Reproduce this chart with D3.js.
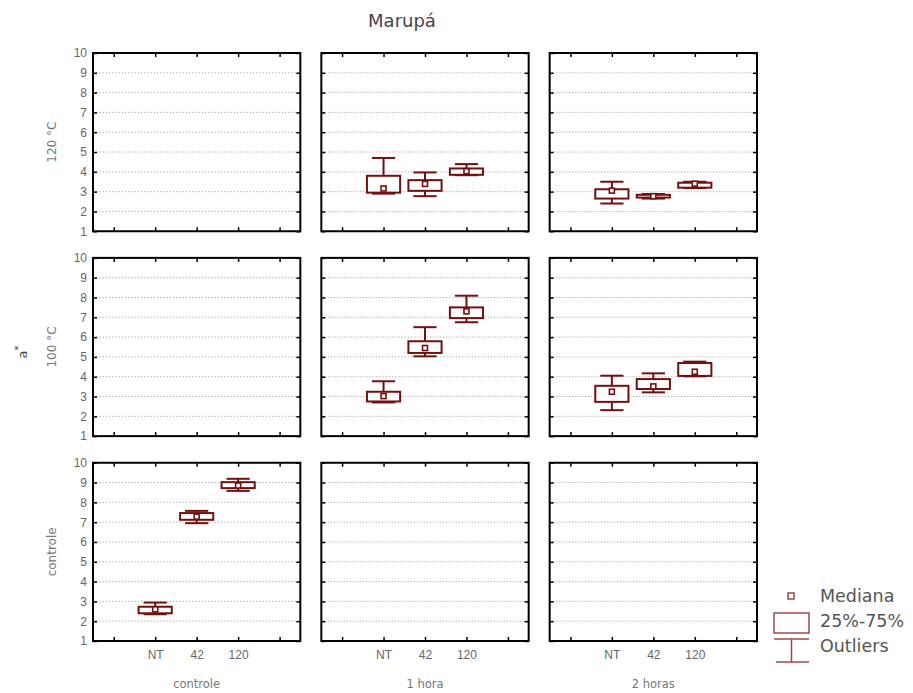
<!DOCTYPE html>
<html lang="pt">
<head>
<meta charset="UTF-8">
<title>Marupá</title>
<script src="https://d3js.org/d3.v7.min.js"></script>
<style>
  body { margin: 0; background: #fff; }
  svg { display: block; font-family: 'DejaVu Sans', sans-serif; }
  .axis path.domain { display: none; }
  .axis .tick line { stroke: #000; stroke-width: 1.5; }
  .axis .tick text { fill: #666; font-size: 12px; }
  .grid line { stroke: #a8a8a8; stroke-width: 1; stroke-dasharray: 1.2,2; }
</style>
</head>
<body>
<svg width="913" height="693"></svg>
<script>
const title = "Marupá";
const yLabel = "a";
const rowNames = ["120 °C", "100 °C", "controle"];
const colNames = ["controle", "1 hora", "2 horas"];
const xSlots = ["", "NT", "42", "120", ""];
const yTicks = [1, 2, 3, 4, 5, 6, 7, 8, 9, 10];
const gridTicks = [2, 3, 4, 5, 6, 7, 8, 9];
const legendItems = ["Mediana", "25%-75%", "Outliers"];

// one entry per box (row, column, group and the five summary values)
const boxRow   = [0, 0, 0, 0, 0, 0, 1, 1, 1, 1, 1, 1, 2, 2, 2];
const boxCol   = [1, 1, 1, 2, 2, 2, 1, 1, 1, 2, 2, 2, 0, 0, 0];
const boxGroup = ["NT", "42", "120", "NT", "42", "120", "NT", "42", "120",
                  "NT", "42", "120", "NT", "42", "120"];
const minV = [2.90, 2.77, 3.83, 2.40, 2.65, 3.18, 2.70, 5.03, 6.75, 2.31, 3.21, 4.02, 2.35, 6.95, 8.58];
const q1V  = [2.95, 3.04, 3.85, 2.65, 2.70, 3.20, 2.75, 5.20, 6.96, 2.73, 3.38, 4.04, 2.40, 7.12, 8.72];
const medV = [3.16, 3.39, 4.03, 3.05, 2.77, 3.40, 3.02, 5.45, 7.30, 3.24, 3.51, 4.25, 2.60, 7.28, 8.85];
const q3V  = [3.80, 3.58, 4.17, 3.12, 2.84, 3.45, 3.24, 5.79, 7.50, 3.54, 3.88, 4.69, 2.73, 7.46, 9.02];
const maxV = [4.70, 3.97, 4.39, 3.50, 2.88, 3.50, 3.77, 6.50, 8.09, 4.05, 4.17, 4.76, 2.94, 7.57, 9.19];

const boxes = boxRow.map((r, i) => ({
    row: r, col: boxCol[i], group: boxGroup[i],
    min: minV[i], q1: q1V[i], med: medV[i], q3: q3V[i], max: maxV[i]
}));

const boxColor = "#721010";
const legendColor = "#a04848";

const svg = d3.select("svg");

// panel grid
const colScale = d3.scaleBand().domain(d3.range(3)).range([93, 757]).paddingInner(0.092);
const rowScale = d3.scaleBand().domain(d3.range(3)).range([53, 641]).paddingInner(0.13);
const w = colScale.bandwidth(), h = rowScale.bandwidth();

const y = d3.scaleLinear().domain([1, 10]).range([h, 0]);
const x = d3.scalePoint().domain(d3.range(5)).range([0, w]).padding(0.5);
const boxW = x.step() * 0.8;
const capW = boxW * 0.7;

svg.append("text")
    .attr("x", 402).attr("y", 27)
    .attr("text-anchor", "middle")
    .attr("fill", "#444").attr("font-size", 18)
    .text(title);

for (let r = 0; r < 3; r++) {
    for (let c = 0; c < 3; c++) {
        const g = svg.append("g")
            .attr("transform", `translate(${colScale(c)},${rowScale(r)})`);

        g.append("g").attr("class", "grid")
            .selectAll("line").data(gridTicks).join("line")
            .attr("x1", 0).attr("x2", w)
            .attr("y1", d => y(d)).attr("y2", d => y(d));

        g.append("g").attr("class", "axis")
            .call(d3.axisLeft(y).tickValues(yTicks).tickSizeInner(-4).tickSizeOuter(0)
                .tickPadding(6).tickFormat(d => c === 0 ? d : ""));
        g.append("g").attr("class", "axis")
            .attr("transform", `translate(${w},0)`)
            .call(d3.axisRight(y).tickValues(yTicks).tickSizeInner(-4).tickSizeOuter(0).tickFormat(""));
        g.append("g").attr("class", "axis")
            .call(d3.axisTop(x).tickSizeInner(-4).tickSizeOuter(0).tickFormat(""));
        g.append("g").attr("class", "axis")
            .attr("transform", `translate(0,${h})`)
            .call(d3.axisBottom(x).tickSizeInner(-4).tickSizeOuter(0).tickPadding(9)
                .tickFormat(i => r === 2 ? xSlots[i] : ""));

        // boxes for this panel
        const b = g.selectAll("g.box")
            .data(boxes.filter(d => d.row === r && d.col === c))
            .join("g").attr("class", "box")
            .attr("transform", d => `translate(${x(xSlots.indexOf(d.group))},0)`)
            .attr("stroke", boxColor).attr("stroke-width", 2);

        b.append("line")
            .attr("x1", 0).attr("x2", 0)
            .attr("y1", d => y(d.max)).attr("y2", d => y(d.min));
        b.append("line")
            .attr("x1", -capW / 2).attr("x2", capW / 2)
            .attr("y1", d => y(d.max)).attr("y2", d => y(d.max));
        b.append("line")
            .attr("x1", -capW / 2).attr("x2", capW / 2)
            .attr("y1", d => y(d.min)).attr("y2", d => y(d.min));
        b.append("rect")
            .attr("x", -boxW / 2).attr("width", boxW)
            .attr("y", d => y(d.q3)).attr("height", d => y(d.q1) - y(d.q3))
            .attr("fill", "#fff");
        b.append("rect")
            .attr("x", -2.5).attr("width", 5)
            .attr("y", d => y(d.med) - 2.5).attr("height", 5)
            .attr("fill", "#fff").attr("stroke-width", 1.6);

        g.append("rect")
            .attr("width", w).attr("height", h)
            .attr("fill", "none").attr("stroke", "#000").attr("stroke-width", 2);
    }
}

// row labels
svg.selectAll("text.rowlab").data(rowNames).join("text")
    .attr("class", "rowlab")
    .attr("transform", (d, i) => `translate(56,${rowScale(i) + h / 2}) rotate(-90)`)
    .attr("text-anchor", "middle")
    .attr("fill", "#777").attr("font-size", 12)
    .text(d => d);

// column labels
svg.selectAll("text.collab").data(colNames).join("text")
    .attr("class", "collab")
    .attr("x", (d, i) => colScale(i) + w / 2).attr("y", 688)
    .attr("text-anchor", "middle")
    .attr("fill", "#777").attr("font-size", 11.5)
    .text(d => d);

// y title a*
const yt = svg.append("text")
    .attr("transform", "translate(27,352) rotate(-90)")
    .attr("text-anchor", "middle")
    .attr("fill", "#444").attr("font-size", 13);
yt.append("tspan").text(yLabel);
yt.append("tspan").attr("baseline-shift", "super").attr("font-size", 10).text("*");

// legend
const lg = svg.append("g").attr("stroke", legendColor).attr("fill", "none").attr("stroke-width", 1.5);
lg.append("rect").attr("x", 788).attr("y", 593).attr("width", 6).attr("height", 6);
lg.append("rect").attr("x", 774).attr("y", 613).attr("width", 35).attr("height", 20);
lg.append("line").attr("x1", 774).attr("x2", 809).attr("y1", 639).attr("y2", 639);
lg.append("line").attr("x1", 791.5).attr("x2", 791.5).attr("y1", 639).attr("y2", 662);
lg.append("line").attr("x1", 776).attr("x2", 809).attr("y1", 662).attr("y2", 662);

svg.selectAll("text.leg").data(legendItems).join("text")
    .attr("class", "leg")
    .attr("x", 820).attr("y", (d, i) => 602 + i * 25)
    .attr("fill", "#555").attr("font-size", 17.5)
    .text(d => d);
</script>
</body>
</html>
